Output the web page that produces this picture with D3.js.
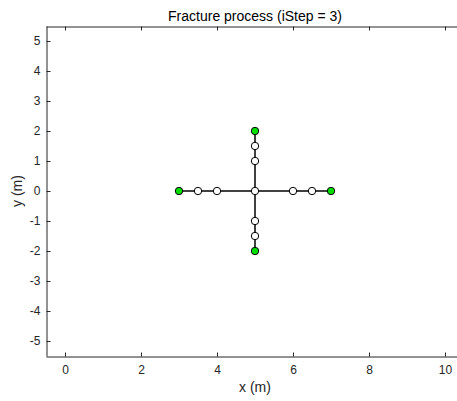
<!DOCTYPE html>
<html><head><meta charset="utf-8">
<script src="https://cdn.jsdelivr.net/npm/d3@7"></script>
<style>body{margin:0;background:#fff;}svg{display:block;font-family:"Liberation Sans",Arial,sans-serif;}</style>
</head><body>
<script>
const title = "Fracture process (iStep = 3)";
const xLabel = "x (m)", yLabel = "y (m)";
const xTicks = [0, 2, 4, 6, 8, 10];
const yTicks = [-5, -4, -3, -2, -1, 0, 1, 2, 3, 4, 5];
const xDomain = [-0.5, 10.5], yDomain = [-5.5, 5.5];
// nodes
const nodeX = [5, 3, 3.5, 4, 6, 6.5, 7, 5, 5, 5, 5, 5, 5];
const nodeY = [0, 0, 0, 0, 0, 0, 0, 2, 1.5, 1, -1, -1.5, -2];
const nodeTip = [false, true, false, false, false, false, true, true, false, false, false, false, true];
// edges as index pairs
const edgeFrom = [0, 3, 2, 0, 4, 5, 0, 9, 8, 0, 10, 11];
const edgeTo   = [3, 2, 1, 4, 5, 6, 9, 8, 7, 10, 11, 12];

const W = 457, H = 401;
const svg = d3.select("body").append("svg").attr("width", W).attr("height", H);
const x = d3.scaleLinear().domain(xDomain).range([46, 464]);
const y = d3.scaleLinear().domain(yDomain).range([356, 26]);
const ac = "#262626";

const fmt = d => String(d);
const g = svg.append("g");
const axB = g.append("g").attr("transform", "translate(0,356.5)")
  .call(d3.axisBottom(x).tickValues(xTicks).tickSize(-4).tickSizeOuter(0).tickPadding(9).tickFormat(fmt));
const axT = g.append("g").attr("transform", "translate(0,26.5)")
  .call(d3.axisTop(x).tickValues(xTicks).tickSize(-4).tickSizeOuter(0).tickFormat(""));
const axL = g.append("g").attr("transform", "translate(46.5,0)")
  .call(d3.axisLeft(y).tickValues(yTicks).tickSize(-4).tickSizeOuter(0).tickPadding(6).tickFormat(fmt));
const axR = g.append("g").attr("transform", "translate(463.5,0)")
  .call(d3.axisRight(y).tickValues(yTicks).tickSize(-4).tickSizeOuter(0).tickFormat(""));
[axB, axT, axL, axR].forEach(a => {
  a.select(".domain").attr("stroke", ac).attr("stroke-width", 1);
  a.selectAll(".tick line").attr("stroke", ac);
  a.selectAll(".tick text").attr("fill", ac).attr("font-size", 12).attr("font-family", "Liberation Sans, Arial, sans-serif");
});

// edges
const plot = svg.append("g");
plot.selectAll("line.e").data(edgeFrom.map((f, i) => [f, edgeTo[i]])).join("line")
  .attr("class", "e")
  .attr("x1", d => x(nodeX[d[0]])).attr("y1", d => y(nodeY[d[0]]))
  .attr("x2", d => x(nodeX[d[1]])).attr("y2", d => y(nodeY[d[1]]))
  .attr("stroke", "#000").attr("stroke-width", 1.5);
plot.selectAll("circle").data(nodeX.map((v, i) => i)).join("circle")
  .attr("cx", i => x(nodeX[i])).attr("cy", i => y(nodeY[i])).attr("r", 3.7)
  .attr("fill", i => nodeTip[i] ? "#00dd00" : "#fff")
  .attr("stroke", "#000").attr("stroke-width", 1);

// labels
svg.append("text").attr("x", 255).attr("y", 21).attr("text-anchor", "middle")
  .attr("font-size", 14).attr("fill", "#000").text(title);
svg.append("text").attr("x", 255).attr("y", 392).attr("text-anchor", "middle")
  .attr("font-size", 14).attr("fill", ac).text(xLabel);
svg.append("text").attr("transform", "translate(22,191) rotate(-90)").attr("text-anchor", "middle")
  .attr("font-size", 14).attr("fill", ac).text(yLabel);
</script>
</body></html>
